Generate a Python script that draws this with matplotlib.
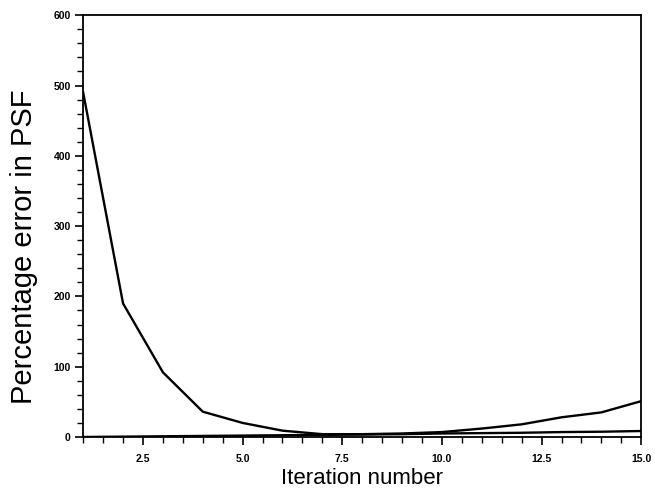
import numpy as np
import matplotlib
matplotlib.use("Agg")
import matplotlib.pyplot as plt
from matplotlib.ticker import MultipleLocator, FormatStrFormatter

plt.rcParams['font.family'] = ['Liberation Sans', 'DejaVu Sans']

# data
iterations = [1, 2, 3, 4, 5, 6, 7, 8, 9, 10, 11, 12, 13, 14, 15]
psf_error = [490, 190, 92, 36, 20, 9, 4, 4, 5, 7, 12, 18, 28, 35, 51]
low_error = [0, 0.5, 1, 1.5, 2, 2.5, 3, 3.5, 4, 5, 5.5, 6, 7, 7.5, 8.5]

fig = plt.figure(figsize=(6.55, 4.91), dpi=100)
ax = fig.add_axes([0.127, 0.110, 0.852, 0.859])

ax.plot(iterations, psf_error, color="black", linewidth=1.7)
ax.plot(iterations, low_error, color="black", linewidth=1.7)

ax.set_xlim(1, 15)
ax.set_ylim(0, 600)

ax.xaxis.set_major_locator(MultipleLocator(2.5))
ax.xaxis.set_minor_locator(MultipleLocator(0.5))
ax.xaxis.set_major_formatter(FormatStrFormatter('%.1f'))
ax.yaxis.set_major_locator(MultipleLocator(100))
ax.yaxis.set_minor_locator(MultipleLocator(20))

ax.tick_params(axis='both', which='major', direction='out', length=6, width=1.2,
               labelsize=7.5, pad=3)
ax.tick_params(axis='both', which='minor', direction='out', length=4, width=1.0)
ax.tick_params(axis='x', which='major', pad=6)
for lab in ax.get_xticklabels() + ax.get_yticklabels():
    lab.set_fontweight('bold')

for s in ax.spines.values():
    s.set_linewidth(1.3)

ax.set_xlabel("Iteration number", fontsize=16)
ax.set_ylabel("Percentage error in PSF", fontsize=21)
ax.xaxis.set_label_coords(0.5, -0.074)
ax.yaxis.set_label_coords(-0.081, 0.451)

fig.savefig("out.png", dpi=100)
